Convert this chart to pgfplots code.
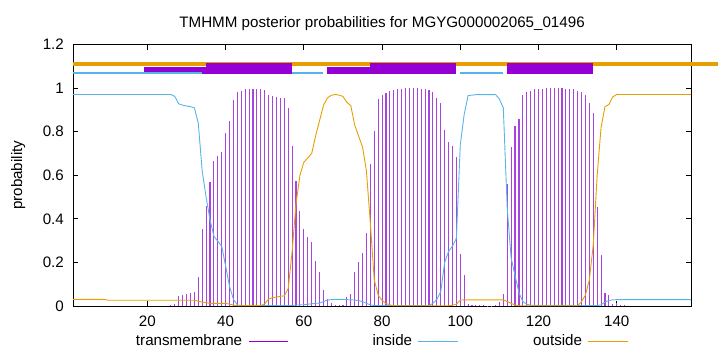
\documentclass[border=0pt]{standalone}
\usepackage{fontspec}
\setmainfont{Liberation Sans}
\usepackage{pgfplots}
\usepackage{pgfplotstable}
\pgfplotsset{compat=1.18}
\definecolor{tmpurple}{HTML}{9400D3}
\definecolor{tmimp}{HTML}{A844DE}
\definecolor{inblue}{HTML}{56B4E9}
\definecolor{outorange}{HTML}{E69F00}

\pgfplotstableread{
r p
26 0.005
27 0.008
28 0.044
29 0.049
30 0.056
31 0.061
32 0.062
33 0.131
34 0.355
35 0.46
36 0.568
37 0.665
38 0.69
39 0.706
40 0.793
41 0.851
42 0.944
43 0.983
44 0.989
45 0.997
46 0.998
47 0.998
48 0.997
49 0.995
50 0.991
51 0.967
52 0.965
53 0.96
54 0.957
55 0.953
56 0.909
57 0.734
58 0.574
59 0.437
60 0.352
61 0.317
62 0.295
63 0.205
64 0.158
65 0.072
66 0.030
67 0.012
68 0.005
69 0.004
70 0.006
71 0.041
72 0.056
73 0.158
74 0.201
75 0.245
76 0.336
77 0.654
78 0.802
79 0.948
80 0.968
81 0.976
82 0.988
83 0.992
84 0.997
85 0.998
86 0.999
87 0.999
88 0.999
89 0.999
90 0.998
91 0.996
92 0.99
93 0.984
94 0.955
95 0.932
96 0.81
97 0.752
98 0.733
99 0.682
100 0.24
101 0.14
102 0.008
103 0.006
104 0.005
105 0.003
106 0.003
107 0.002
108 0.002
109 0.005
110 0.02
111 0.056
112 0.559
113 0.732
114 0.828
115 0.860
116 0.970
117 0.983
118 0.988
119 0.994
120 0.997
121 0.998
122 0.999
123 0.999
124 0.999
125 0.999
126 0.999
127 0.998
128 0.998
129 0.997
130 0.989
131 0.983
132 0.967
133 0.933
134 0.884
135 0.455
136 0.236
137 0.059
138 0.049
139 0.008
140 0.012
141 0.006
142 0.003
}\tmdata

\pgfplotstableread{
r p
1 0.971
26 0.971
27 0.962
28 0.928
29 0.922
30 0.918
31 0.915
32 0.910
33 0.840
34 0.620
35 0.500
36 0.396
37 0.320
38 0.297
39 0.274
40 0.183
41 0.090
42 0.030
43 0.005
44 0.002
57 0.002
58 0.004
59 0.005
60 0.006
61 0.008
62 0.010
63 0.012
64 0.013
65 0.020
66 0.027
67 0.029
68 0.030
69 0.030
70 0.030
71 0.029
72 0.028
73 0.027
74 0.025
75 0.020
76 0.012
77 0.005
78 0.002
92 0.002
93 0.012
94 0.030
95 0.065
96 0.200
97 0.250
98 0.275
99 0.310
100 0.740
101 0.880
102 0.966
103 0.968
104 0.970
108 0.970
109 0.971
110 0.950
111 0.910
112 0.450
113 0.220
114 0.140
115 0.060
116 0.020
117 0.008
118 0.003
135 0.002
136 0.005
137 0.018
138 0.025
139 0.028
140 0.029
159 0.029
}\indata

\pgfplotstableread{
r p
1 0.030
9 0.030
10 0.026
32 0.026
33 0.022
34 0.018
35 0.015
36 0.012
40 0.012
41 0.008
42 0.004
43 0.001
49 0.002
50 0.010
51 0.032
52 0.038
53 0.041
54 0.044
55 0.047
56 0.080
57 0.250
58 0.470
59 0.600
60 0.660
61 0.680
62 0.700
63 0.780
64 0.850
65 0.920
66 0.955
67 0.967
68 0.971
69 0.968
70 0.962
71 0.935
72 0.920
73 0.830
74 0.780
75 0.730
76 0.620
77 0.380
78 0.120
79 0.050
80 0.025
81 0.012
82 0.005
83 0.001
97 0.001
98 0.003
99 0.008
100 0.027
101 0.028
111 0.028
112 0.020
113 0.012
114 0.004
115 0.001
130 0.001
131 0.020
132 0.050
133 0.120
134 0.280
135 0.600
136 0.820
137 0.915
138 0.925
139 0.960
140 0.971
159 0.971
}\outdata

\begin{document}
\fontsize{15.2bp}{18bp}\selectfont
\begin{tikzpicture}
\begin{axis}[
  scale only axis, width=619.4bp, height=262bp,
  xmin=1, xmax=159, ymin=0, ymax=1.2,
  clip=false,
  xtick={20,40,60,80,100,120,140},
  ytick={0,0.2,0.4,0.6,0.8,1,1.2},
  tick align=inside, major tick length=5bp,
  axis line style={line width=0.8bp},
  every tick/.style={black, line width=0.8bp},
  /pgf/number format/assume math mode=true,
  xticklabel style={anchor=base, yshift=-21bp},
  yticklabel style={anchor=east, xshift=-4bp},
  title={TMHMM posterior probabilities for MGYG000002065\_01496},
  title style={at={(axis description cs:0.5,1)}, anchor=base, yshift=11.5bp},
  ylabel={probability},
  ylabel style={at={(axis description cs:-0.089,0.5)}, anchor=center},
  legend columns=3, legend plot pos=right,
  legend style={draw=none, fill=none, at={(axis description cs:0.5,-0.1336)}, anchor=center,
    /tikz/every odd column/.append style={column sep=4bp},
    /tikz/every even column/.append style={column sep=16.7bp}},
]
\addplot[ycomb, tmimp, line width=1.1bp,
  legend image code/.code={\draw[tmpurple, line width=0.7bp] (0bp,0bp) -- (40bp,0bp);}]
  table[x=r, y=p] {\tmdata};
\addlegendentry{\makebox[105bp][r]{transmembrane}}
\addplot[inblue, line width=0.9bp, mark=none,
  legend image code/.code={\draw[inblue, line width=0.7bp] (0bp,0bp) -- (40bp,0bp);}]
  table[x=r, y=p] {\indata};
\addlegendentry{\makebox[105bp][r]{inside}}
\addplot[outorange, line width=0.9bp, mark=none,
  legend image code/.code={\draw[outorange, line width=0.7bp] (0bp,0bp) -- (40bp,0bp);}]
  table[x=r, y=p] {\outdata};
\addlegendentry{\makebox[105bp][r]{outside}}

% topology
\addplot[forget plot, fill=tmpurple, draw=none] coordinates {(19,1.064) (35,1.064) (35,1.099) (19,1.099)} --cycle;
\addplot[forget plot, fill=tmpurple, draw=none] coordinates {(66,1.064) (77,1.064) (77,1.099) (66,1.099)} --cycle;
\addplot[forget plot, inblue, line width=2.3bp] coordinates {(1,1.071) (34,1.071)};
\addplot[forget plot, inblue, line width=2.3bp] coordinates {(57,1.071) (65,1.071)};
\addplot[forget plot, inblue, line width=2.3bp] coordinates {(100,1.071) (111,1.071)};
\addplot[forget plot, outorange, line width=4bp] coordinates {(1,1.11) (165.9,1.11)};
\addplot[forget plot, fill=tmpurple, draw=none] coordinates {(35,1.064) (57,1.064) (57,1.114) (35,1.114)} --cycle;
\addplot[forget plot, fill=tmpurple, draw=none] coordinates {(77,1.064) (99,1.064) (99,1.114) (77,1.114)} --cycle;
\addplot[forget plot, fill=tmpurple, draw=none] coordinates {(112,1.064) (134,1.064) (134,1.114) (112,1.114)} --cycle;
\end{axis}
\path (current axis.south west) ++(-73.3bp,-45.3bp) rectangle ++(720bp,352bp);
\end{tikzpicture}
\end{document}
